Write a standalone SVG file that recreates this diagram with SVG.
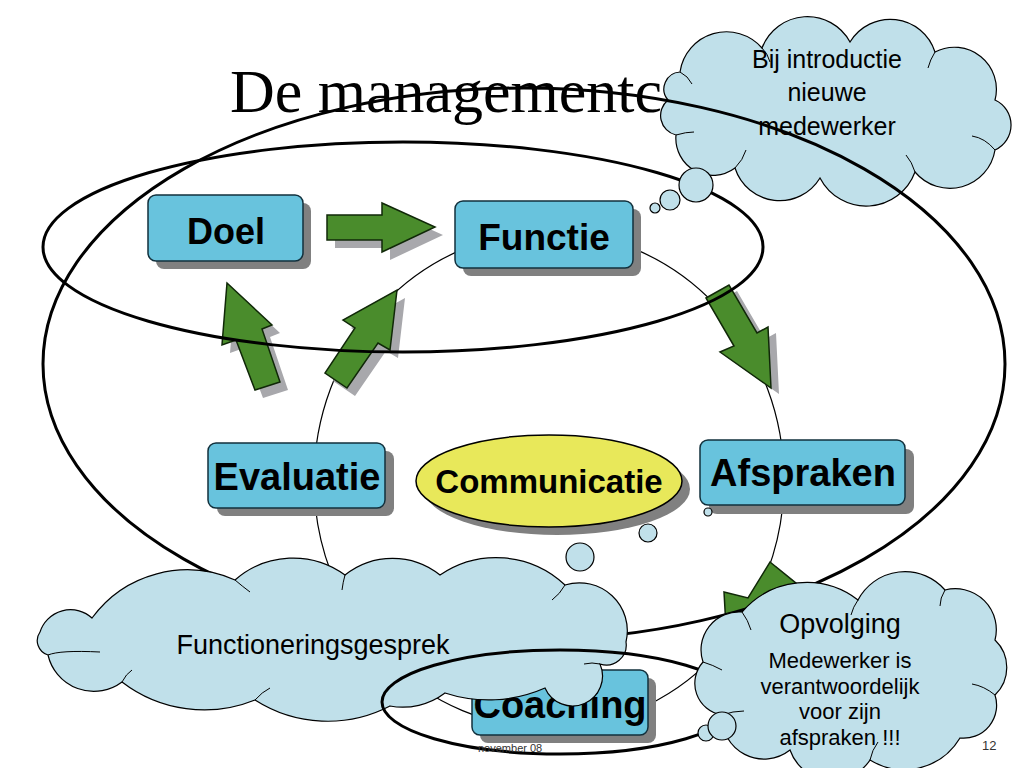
<svg xmlns="http://www.w3.org/2000/svg" width="1024" height="768" viewBox="0 0 1024 768">
<defs>
<style>
.box{fill:#68c3dd;stroke:#12303c;stroke-width:1.5}
.shadow{fill:#808080}
.ashadow{fill:#a8a8ac}
.arrow{fill:#4a8c2c;stroke:#102808;stroke-width:1.5;stroke-linejoin:miter}
.lbl{font-family:"Liberation Sans",Arial,sans-serif;font-weight:bold;fill:#000;text-anchor:middle}
.cloud{fill:#c0e0ea;stroke:#000;stroke-width:1.2}
.ctext{font-family:"Liberation Sans",Arial,sans-serif;fill:#000;text-anchor:middle}
.thick{fill:none;stroke:#000;stroke-width:3}
.thin{fill:none;stroke:#000;stroke-width:1.2}
.inner{fill:none;stroke:#000;stroke-width:1}
</style>
</defs>
<rect width="1024" height="768" fill="#fff"/>
<text x="230" y="112" font-family="Liberation Serif,Times New Roman,serif" font-size="62" fill="#000">De managementc</text>

<g id="connectors">
<ellipse class="thin" cx="549" cy="480" rx="235" ry="248"/>
</g>

<g id="node-doel">
<rect class="shadow" x="156" y="203" width="155" height="66" rx="8"/>
<rect class="box" x="148" y="195" width="155" height="66" rx="8"/>
<text class="lbl" x="226" y="244" font-size="36">Doel</text>
</g>
<g id="node-functie">
<rect class="shadow" x="463" y="209" width="178" height="67" rx="8"/>
<rect class="box" x="455" y="201" width="178" height="67" rx="8"/>
<text class="lbl" x="544" y="250" font-size="37">Functie</text>
</g>
<g id="node-evaluatie">
<rect class="shadow" x="217" y="451" width="177" height="65" rx="8"/>
<rect class="box" x="208" y="443" width="177" height="65" rx="8"/>
<text class="lbl" x="297" y="490" font-size="38">Evaluatie</text>
</g>
<g id="node-afspraken">
<rect class="shadow" x="709" y="449" width="205" height="65" rx="8"/>
<rect class="box" x="700" y="440" width="205" height="65" rx="8"/>
<text class="lbl" x="803" y="486" font-size="38">Afspraken</text>
</g>
<g id="node-coaching">
<rect class="shadow" x="480" y="678" width="176" height="65" rx="8"/>
<rect class="box" x="472" y="670" width="176" height="65" rx="8"/>
<text class="lbl" x="560" y="718" font-size="38">Coaching</text>
</g>
<g id="node-communicatie">
<ellipse class="shadow" cx="557" cy="489" rx="133" ry="46"/>
<ellipse cx="549" cy="481" rx="133" ry="46" fill="#e8e85a" stroke="#000" stroke-width="1.5"/>
<text class="lbl" x="549" y="493" font-size="33">Communicatie</text>
</g>

<g id="arrows">
<polygon class="ashadow" points="335,223 390,223 390,211 443,235 390,260 390,248 335,248"/>
<polygon class="arrow" points="327,215 382,215 382,203 435,227 382,252 382,240 327,240"/>
<polygon class="ashadow" points="714,304 737,291 765,339 776,333 779,394 728,358 742,352"/>
<polygon class="arrow" points="706,298 729,285 757,333 768,327 771,388 720,352 734,346"/>
<polygon class="ashadow" points="235,291 280,333 270,337 288,390 263,398 244,348 230,353"/>
<polygon class="arrow" points="227,283 272,325 262,329 280,382 255,390 236,340 222,345"/>
<polygon class="ashadow" points="405,298 398,358 386,351 355,396 333,381 363,336 351,328"/>
<polygon class="arrow" points="397,290 390,350 378,343 347,388 325,373 355,328 343,320"/>
<polygon class="ashadow" points="776,566 803,588 788,610 806,629 734,666 730,596 754,602"/>
<polygon class="arrow" points="770,562 797,584 782,606 800,625 728,662 724,592 748,598"/>
</g>

<g id="ellipse-top">
<ellipse class="thick" cx="403" cy="247" rx="360" ry="105"/>
</g>

<g id="cloud-introductie">
<path class="cloud" d="M680 72 A47 47 0 0 1 762 48 A48.5 48.5 0 0 1 850 42 A47 47 0 0 1 935 52 A42 42 0 0 1 995 100 A27.5 27.5 0 0 1 995 150 A45.6 45.6 0 0 1 915 172 A52 52 0 0 1 820 178 A47 47 0 0 1 735 168 A37 37 0 0 1 676 135 A20 20 0 0 1 668 100 A17 17 0 0 1 680 72 Z"/>
<path class="inner" d="M680 72 Q688 76 692 84 M735 168 Q743 160 746 150 M915 172 Q912 162 906 155 M995 150 Q985 138 972 136 M935 52 Q930 60 928 68 M762 48 Q768 54 770 62 M676 135 Q686 132 694 132"/>
<circle class="cloud" cx="696" cy="185" r="17"/>
<circle class="cloud" cx="670" cy="200" r="10"/>
<circle class="cloud" cx="655" cy="208" r="5"/>
<text class="ctext" x="827" y="68" font-size="25">Bij introductie</text>
<text class="ctext" x="827" y="101" font-size="25">nieuwe</text>
<text class="ctext" x="827" y="135" font-size="25">medewerker</text>
</g>

<g id="ellipse-big">
<ellipse class="thick" cx="524" cy="364" rx="481" ry="276"/>
</g>

<g id="bubbles">
<circle class="cloud" cx="648" cy="533" r="9"/>
<circle class="cloud" cx="580" cy="557" r="14"/>
<circle class="cloud" cx="708" cy="512" r="4"/>
</g>

<g id="cloud-functionering">
<path class="cloud" d="M92 618 A118 118 0 0 1 235 580 A88 88 0 0 1 345 575 A76 76 0 0 1 440 575 A100 100 0 0 1 565 585 A48 48 0 0 1 626 642 A20 20 0 0 1 600 664 A24 24 0 0 1 545 688 A140 140 0 0 1 445 693 A70 70 0 0 1 390 706 A135 135 0 0 1 255 700 A135 135 0 0 1 122 682 A47 47 0 0 1 48 655 A15 15 0 0 1 40 632 A32 32 0 0 1 92 618 Z"/>
<path class="inner" d="M235 580 Q242 586 250 592 M345 575 Q343 582 342 590 M565 585 Q560 594 552 600 M600 664 Q592 662 584 664 M255 700 Q262 692 270 688 M122 682 Q126 674 132 670 M48 655 Q60 650 100 652"/>
<text class="ctext" x="313" y="654" font-size="27">Functioneringsgesprek</text>
</g>

<g id="ellipse-coaching">
<ellipse class="thick" cx="560" cy="702" rx="178" ry="52"/>
</g>

<g id="cloud-opvolging">
<path class="cloud" d="M703 662 A38 38 0 0 1 742 612 A85 85 0 0 1 858 600 A53 53 0 0 1 945 590 A41 41 0 0 1 995 640 A38 38 0 0 1 995 695 A33 33 0 0 1 960 738 A65 65 0 0 1 870 760 A45 45 0 0 1 790 750 A42 42 0 0 1 722 715 A32 32 0 0 1 703 662 Z"/>
<path class="inner" d="M742 612 Q748 620 751 630 M858 600 Q853 607 851 615 M945 590 Q940 598 940 606 M995 695 Q984 686 972 684 M870 760 Q872 750 878 742 M722 715 Q733 711 744 711 M703 662 Q713 665 722 670"/>
<circle class="cloud" cx="706" cy="733" r="8"/>
<circle class="cloud" cx="722" cy="726" r="14"/>
<text class="ctext" x="840" y="633" font-size="27">Opvolging</text>
<text class="ctext" x="840" y="668" font-size="22">Medewerker is</text>
<text class="ctext" x="840" y="694" font-size="22">verantwoordelijk</text>
<text class="ctext" x="840" y="719" font-size="22">voor zijn</text>
<text class="ctext" x="840" y="745" font-size="22">afspraken !!!</text>
</g>

<text x="478" y="752" font-family="Liberation Sans,Arial,sans-serif" font-size="11" fill="#333">november 08</text>
<text x="982" y="750" font-family="Liberation Sans,Arial,sans-serif" font-size="13" fill="#333">12</text>
</svg>
